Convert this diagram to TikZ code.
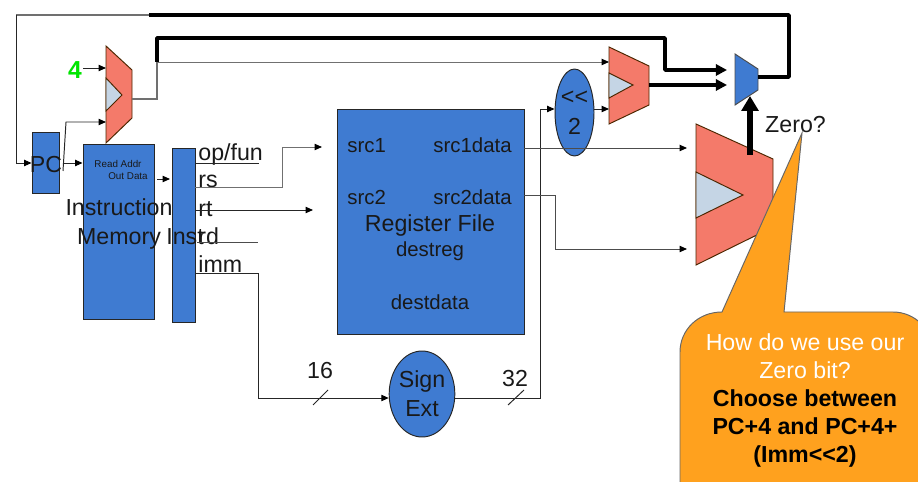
\documentclass[tikz,border=0pt]{standalone}
\usepackage{fontspec}
\setmainfont{Liberation Sans}
\usetikzlibrary{positioning}
\usetikzlibrary{arrows.meta}
\usetikzlibrary{shapes.geometric}
\definecolor{unitblue}{HTML}{3F7BD1}
\definecolor{addred}{HTML}{F47A6A}
\definecolor{notchgrey}{HTML}{C5D5E5}
\definecolor{calloutorange}{HTML}{FFA11E}
\definecolor{wiregrey}{HTML}{707070}
\tikzset{
  unitbox/.style={draw=black!85,fill=unitblue,line width=0.55pt,inner sep=0pt,text=black!90},
  adder/.style={draw=black!70!orange,fill=addred,line width=0.55pt},
  notch/.style={draw=black!70!orange,fill=notchgrey,line width=0.55pt},
  wire/.style={draw=black!85,line width=0.55pt},
  arrowwire/.style={wire,-{Triangle[length=4.2pt,width=3.6pt,color=black]}},
  busline/.style={draw=black,line width=2pt,line join=round},
  busarrow/.style={busline,-{Triangle[length=6.4pt,width=6.4pt]}},
  lbl/.style={inner sep=0pt,text=black!90,font=\fontsize{13.2}{16.5}\selectfont},
  smalllbl/.style={inner sep=0pt,text=black!90,font=\fontsize{11.6}{13}\selectfont},
  tinylbl/.style={inner sep=0pt,text=black!90,font=\fontsize{5.6}{7}\selectfont},
}
\begin{document}
\begin{tikzpicture}[x=0.02cm,y=-0.02cm]
\useasboundingbox (0,0) rectangle (918,482);
% boxes
\node[unitbox,minimum width=0.54cm,minimum height=1.22cm] (pc) at (45.5,162.5) {};
\node[unitbox,minimum width=1.42cm,minimum height=3.52cm] (imem) at (118.5,232) {};
\node[unitbox,minimum width=0.46cm,minimum height=3.5cm] (instr) at (183.5,235.5) {};
\node[unitbox,minimum width=3.74cm,minimum height=4.52cm] (regfile) at (430.5,222) {};
\node[unitbox,ellipse,minimum width=0.78cm,minimum height=1.74cm,align=center,font=\fontsize{13.2}{17}\selectfont] (shift) at (574.5,112.5) {<{}<\\2};
\node[unitbox,ellipse,minimum width=1.24cm,minimum height=1.72cm,align=center,font=\fontsize{13.2}{16.5}\selectfont] (signext) at (422,394) {Sign\\Ext};
% adders
\draw[adder] (106,46) -- (132,70) -- (132,118) -- (106,143) -- cycle;
\draw[notch] (106,78) -- (122,95) -- (106,111) -- cycle;
\draw[adder] (609,47) -- (649,66) -- (649,105) -- (609,124) -- cycle;
\draw[notch] (609,73) -- (633,85) -- (609,98) -- cycle;
\draw[adder] (696,124) -- (773,159) -- (773,227) -- (696,265) -- cycle;
\draw[notch] (696,172) -- (743,195) -- (696,218) -- cycle;
\draw[draw=black!70,fill=unitblue,line width=0.55pt] (735,54) -- (758,69) -- (758,90) -- (735,105) -- cycle;
% named ports
\coordinate (addAtop) at (106,68);
\coordinate (addAbot) at (106,122);
\coordinate (addAout) at (132,99);
\coordinate (addBtop) at (609,62);
\coordinate (addBbot) at (609,109);
\coordinate (addBout) at (649,85);
\coordinate (aluA) at (687,148);
\coordinate (aluB) at (687,249);
\coordinate (muxA) at (727,70);
\coordinate (muxB) at (727,85);
\coordinate (muxout) at (758,77);
\coordinate (muxsel) at (750,96);
\coordinate (aluout) at (750,155);
\coordinate (pcout) at (63,163);
\coordinate (rsend) at (322,147);
\coordinate (rtend) at (313,210);
\coordinate (outdata) at (157,179);
\coordinate (instrin) at (170,179);
% texts
\node[lbl] (pclbl) at (46,165) {PC};
\node[lbl,text=green!90!black,font=\fontsize{14}{16}\bfseries] (four) at (75,70) {4};
\node[tinylbl] (readaddr) at (118,164) {Read Addr};
\node[tinylbl] (outlbl) at (128,176) {Out Data};
\node[lbl,align=center] (imemlbl) at (119,224) {Instruction\\Memory};
\node[lbl,anchor=base west] (instrlbl) at (166,245) {Inst};
\node[lbl,anchor=base west] (opfun) at (198,161) {op/fun};
\node[lbl,anchor=base west] (rs) at (198,188) {rs};
\node[lbl,anchor=base west] (rt) at (198,217) {rt};
\node[lbl,anchor=base west] (rd) at (198,245) {rd};
\node[lbl,anchor=base west] (imm) at (198,273) {imm};
\node[smalllbl,anchor=base west] (srcone) at (347,153) {src1};
\node[smalllbl,anchor=base west] (srctwo) at (347,205) {src2};
\node[smalllbl,anchor=base east] (dataone) at (512,153) {src1data};
\node[smalllbl,anchor=base east] (datatwo) at (512,205) {src2data};
\node[lbl] (reglbl) at (430,226) {Register File};
\node[smalllbl] (destreg) at (430,251) {destreg};
\node[smalllbl] (destdata) at (430,302) {destdata};
\node[lbl] (sixteen) at (320,371) {16};
\node[lbl] (thirtytwo) at (515,379) {32};
% thin wires
\draw[wiregrey,line width=0.7pt] (16,15) -- (149,15);
\draw[arrowwire] (16,15) -- (16,163) -- (pc.west |- pcout);
\draw[arrowwire] (83,68) -- (addAtop);
\draw[arrowwire] (63,171) -- (66,122) -- (addAbot);
\draw[arrowwire] (pcout) -- (imem.west |- pcout);
\draw[arrowwire] (outdata) -- (instrin);
\draw[wiregrey,line width=0.7pt] (addAout) -- (157,99) -- (157,62);
\draw[arrowwire,draw=wiregrey] (157,62) -- (addBtop);
\draw[wire] (instr.east |- 0,163) -- (259,163);
\draw[arrowwire,draw=wiregrey] (instr.east |- 0,187) -- (282,187) -- (282,147) -- (rsend);
\draw[arrowwire] (instr.east |- 0,210) -- (rtend);
\draw[wire,draw=black!70] (197,242) -- (258,242);
\draw[arrowwire] (instr.east |- 0,273) -- (258,273) -- (258,398) -- (signext.west |- 0,398);
\draw[arrowwire] (signext.east |- 0,398) -- (540,398) -- (540,109) -- (shift.west |- 0,109);
\draw[arrowwire] (shift.east |- 0,109) -- (addBbot);
\draw[arrowwire,draw=black!70] (regfile.east |- 0,148) -- (aluA);
\draw[arrowwire,draw=black!70] (regfile.east |- 0,195) -- (555,195) -- (555,249) -- (aluB);
\draw[wire] (313,405) -- (328,390);
\draw[wire] (508,405) -- (524,390);
% thick wires
\draw[busline] (muxout) -- (789,77) -- (789,15) -- (149,15);
\draw[busline] (157,62) -- (157,38) -- (665,38) -- (665,70) -- (700,70);
\draw[busarrow] (700,70) -- (muxA);
\draw[busarrow] (addBout) -- (muxB);
\draw[draw=black,line width=3.2pt,-{Triangle[length=8.5pt,width=9.5pt]}] (aluout) -- (muxsel);
% callout
\begin{scope}
\clip (0,0) rectangle (918,482);
\draw[draw=black!60,fill=calloutorange,line width=0.55pt] (680,490) -- (680,352) .. controls (680,330) and (698,312) .. (722,312)
  -- (802,133) -- (784,312) -- (893,312) .. controls (915,312) and (933,330) .. (933,352) -- (933,490) -- cycle;
\end{scope}
\node[lbl] (zero) at (795.5,125) {Zero?};
\node[inner sep=0pt,align=center,anchor=north,font=\fontsize{13.2}{16}\selectfont] (calloutlbl) at (805,333)
  {\textcolor{white}{How do we use our}\\\textcolor{white}{Zero bit?}\\\textbf{Choose between}\\\textbf{PC+4 and PC+4+}\\\textbf{(Imm<{}<2)}};
\end{tikzpicture}
\end{document}
